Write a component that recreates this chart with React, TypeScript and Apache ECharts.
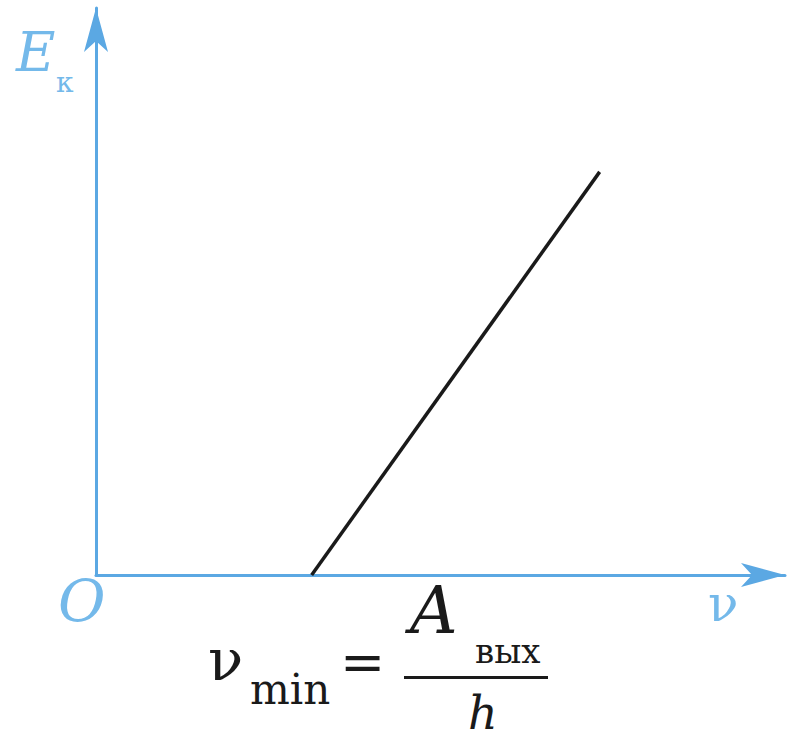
import React, { useEffect, useRef } from "react";
import * as echarts from "echarts";

const nuValues: number[] = [3.13, 7.31];
const energyValues: number[] = [0, 7.11];
const xRange: number[] = [0, 10];
const yRange: number[] = [0, 10];

const serif = "DejaVu Serif";

function txt(text: string, x: number, y: number, size: number, fill: string, italic = false) {
  return {
    type: "text",
    x,
    y,
    style: {
      text,
      fontFamily: serif,
      fontSize: size,
      fontStyle: italic ? "italic" : "normal",
      fill,
      align: "left",
      verticalAlign: "middle",
    },
  };
}

export default function App() {
  const ref = useRef<HTMLDivElement>(null);
  useEffect(() => {
    if (!ref.current) return;
    const chart = echarts.init(ref.current, null, { renderer: "svg" });
    const blue = "#5ba8e3";
    const labelBlue = "#74b9ea";
    const ink = "#1a1a1a";
    chart.setOption({
      animation: false,
      backgroundColor: "#ffffff",
      grid: { left: 96, right: 4, top: 8, bottom: 167, containLabel: false },
      xAxis: {
        type: "value",
        min: xRange[0],
        max: xRange[1],
        axisLine: {
          show: true,
          onZero: true,
          symbol: ["none", "arrow"],
          symbolSize: [18, 44],
          lineStyle: { color: blue, width: 3 },
        },
        axisTick: { show: false },
        axisLabel: { show: false },
        splitLine: { show: false },
      },
      yAxis: {
        type: "value",
        min: yRange[0],
        max: yRange[1],
        axisLine: {
          show: true,
          onZero: true,
          symbol: ["none", "arrow"],
          symbolSize: [18, 44],
          lineStyle: { color: blue, width: 3 },
        },
        axisTick: { show: false },
        axisLabel: { show: false },
        splitLine: { show: false },
      },
      series: [
        {
          type: "line",
          data: nuValues.map((v, i) => [v, energyValues[i]]),
          showSymbol: false,
          symbol: "none",
          lineStyle: { color: ink, width: 3.5 },
          z: 1,
        },
      ],
      graphic: [
        txt("E", 16, 52, 54, labelBlue, true),
        txt("к", 56, 82, 28, labelBlue),
        txt("O", 58, 601, 58, labelBlue, true),
        txt("ν", 708, 604, 50, labelBlue),
        txt("ν", 208, 660, 58, ink),
        txt("min", 250, 689, 42, ink),
        txt("=", 340, 662, 54, ink),
        txt("A", 410, 610, 66, ink, true),
        txt("вых", 475, 651, 34, ink),
        {
          type: "rect",
          shape: { x: 404, y: 676, width: 144, height: 3 },
          style: { fill: ink },
        },
        txt("h", 468, 713, 46, ink, true),
      ],
    });
    return () => chart.dispose();
  }, []);
  return (
    <div
      ref={ref}
      style={{ width: 789, height: 742, position: "absolute", left: 0, top: 0 }}
    />
  );
}
